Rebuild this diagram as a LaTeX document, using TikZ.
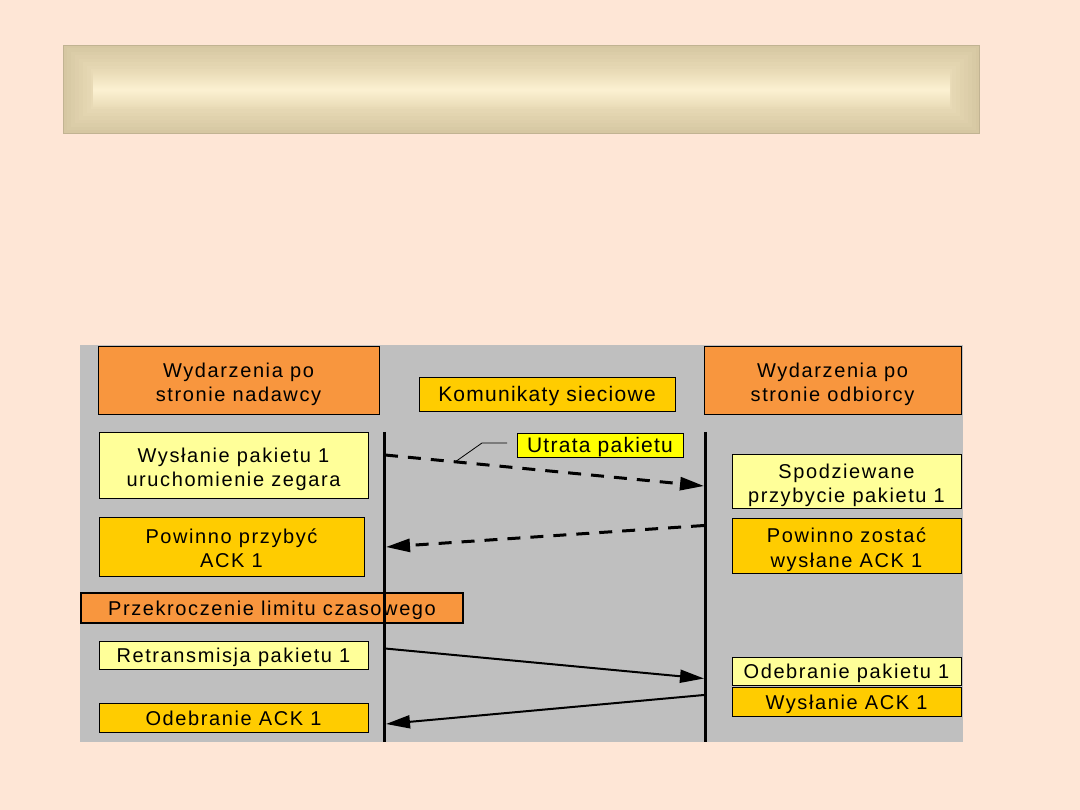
\documentclass[tikz,border=0pt]{standalone}
\usepackage{fontspec}
\newfontfamily\evfam{Liberation Sans}[LetterSpace=8]
\newfontfamily\bigfam{Liberation Sans}[LetterSpace=6]
\usetikzlibrary{arrows.meta}
\definecolor{bgpeach}{RGB}{254,230,214}
\definecolor{panelgray}{RGB}{191,191,191}
\definecolor{orangeC}{RGB}{248,150,62}
\definecolor{goldC}{RGB}{255,204,0}
\definecolor{lightY}{RGB}{255,255,153}
\definecolor{brightY}{RGB}{255,255,0}
\definecolor{barOut}{RGB}{214,199,162}
\definecolor{barIn}{RGB}{234,220,184}
\definecolor{barMid}{RGB}{252,241,210}
\tikzset{
  evbox/.style={draw=black, line width=0.8pt, inner sep=0pt},
  evtxt/.style={inner sep=0pt, align=center, text=black,
    font=\evfam\fontsize{20}{24.5}\selectfont},
  onel/.style={text height=15pt, text depth=4.2pt},
  bigtxt/.style={font=\bigfam\fontsize{21}{24}\selectfont},
  lifeline/.style={line width=3pt, draw=black},
  msg/.style={line width=2pt, draw=black, -{Triangle[length=24pt,width=13pt]}},
  dashmsg/.style={msg, line width=3pt, dash pattern=on 13pt off 10pt},
  callout/.style={line width=0.8pt, draw=black}
}
\begin{document}
\begin{tikzpicture}[x=1pt,y=-1pt]
\useasboundingbox (0,0) rectangle (1080,810);
\fill[bgpeach] (0,0) rectangle (1080,810);
% title bar
\draw[barOut!90!black, line width=1pt, fill=barOut] (63.5,45.5) rectangle (979.5,133.5);
\foreach \i in {1,...,7}{
  \pgfmathtruncatemacro\pct{100-\i*13}
  \fill[barOut!\pct!barIn] (63+\i*4,45+\i*3.5) rectangle (980-\i*4,134-\i*3.5);
}
\shade[top color=barIn, bottom color=barIn, middle color=barMid] (93,72) rectangle (950,107);
% panel
\fill[panelgray] (80,345) rectangle (963,742);
% boxes
\node[evbox, fill=orangeC, minimum width=281, minimum height=68] (snd) at (238.5,380) {};
\node[evbox, fill=goldC, minimum width=256, minimum height=34] (kom) at (547,394) {};
\node[evbox, fill=orangeC, minimum width=257, minimum height=68] (rcv) at (832.5,380) {};
\node[evbox, fill=lightY, minimum width=269, minimum height=66] (wys1) at (233.5,465) {};
\node[evbox, fill=goldC, minimum width=265, minimum height=59] (pow1) at (231.5,546.5) {};
\node[evbox, fill=orangeC, line width=2pt, minimum width=382, minimum height=30] (prz) at (272,608) {};
\node[evbox, fill=lightY, minimum width=269, minimum height=28] (ret) at (233.5,655) {};
\node[evbox, fill=goldC, minimum width=269, minimum height=29] (odA) at (233.5,717.5) {};
\node[evbox, fill=lightY, minimum width=229, minimum height=54] (spo) at (846.5,481) {};
\node[evbox, fill=goldC, minimum width=229, minimum height=55] (powz) at (846.5,545.5) {};
\node[evbox, fill=lightY, minimum width=229, minimum height=28] (odP) at (846.5,671) {};
\node[evbox, fill=goldC, minimum width=229, minimum height=29] (wysA) at (846.5,701.5) {};
\node[evbox, fill=brightY, minimum width=166, minimum height=24] (utr) at (600,445) {};
% texts
\node[evtxt] (sndT) at ([yshift=-4.5pt]snd.center) {Wydarzenia po\\stronie nadawcy};
\node[evtxt, bigtxt, onel] (komT) at ([yshift=-2.5pt]kom.center) {Komunikaty sieciowe};
\node[evtxt] (rcvT) at ([yshift=-4.5pt]rcv.center) {Wydarzenia po\\stronie odbiorcy};
\node[evtxt] (wys1T) at ([yshift=-4.5pt]wys1.center) {Wysłanie pakietu 1\\uruchomienie zegara};
\node[evtxt] (pow1T) at ([yshift=-1.5pt]pow1.center) {Powinno przybyć\\ACK 1};
\node[evtxt, onel] (przT) at ([yshift=-2.5pt]prz.center) {Przekroczenie limitu czasowego};
\node[evtxt, onel] (retT) at ([yshift=-2.5pt]ret.center) {Retransmisja pakietu 1};
\node[evtxt, onel] (odAT) at ([yshift=-2.5pt]odA.center) {Odebranie ACK 1};
\node[evtxt] (spoT) at ([yshift=-4.5pt]spo.center) {Spodziewane\\przybycie pakietu 1};
\node[evtxt] (powzT) at ([yshift=-4pt]powz.center) {Powinno zostać\\wysłane ACK 1};
\node[evtxt, onel] (odPT) at ([yshift=-2.5pt]odP.center) {Odebranie pakietu 1};
\node[evtxt, onel] (wysAT) at ([yshift=-2.5pt]wysA.center) {Wysłanie ACK 1};
\node[evtxt, bigtxt, onel] (utrT) at ([yshift=-2.5pt]utr.center) {Utrata pakietu};
% lifelines
\coordinate (L1) at (384,432); \coordinate (L2) at (384,742);
\coordinate (R1) at (705,432); \coordinate (R2) at (705,742);
\draw[lifeline] (L1) -- (L2);
\draw[lifeline] (R1) -- (R2);
% messages
\coordinate (m1s) at (385,455); \coordinate (m1e) at (704,486);
\coordinate (m2s) at (704,525.5); \coordinate (m2e) at (386,547);
\coordinate (m3s) at (385,648.5); \coordinate (m3e) at (704,678.5);
\coordinate (m4s) at (704,695); \coordinate (m4e) at (386,724);
\draw[dashmsg] (m1s) -- (m1e);
\draw[dashmsg] (m2s) -- (m2e);
\draw[msg] (m3s) -- (m3e);
\draw[msg] (m4s) -- (m4e);
% callout
\coordinate (c1) at (455,462); \coordinate (c2) at (482,443); \coordinate (c3) at (507,443);
\draw[callout] (c1) -- (c2) -- (c3);
\end{tikzpicture}
\end{document}
